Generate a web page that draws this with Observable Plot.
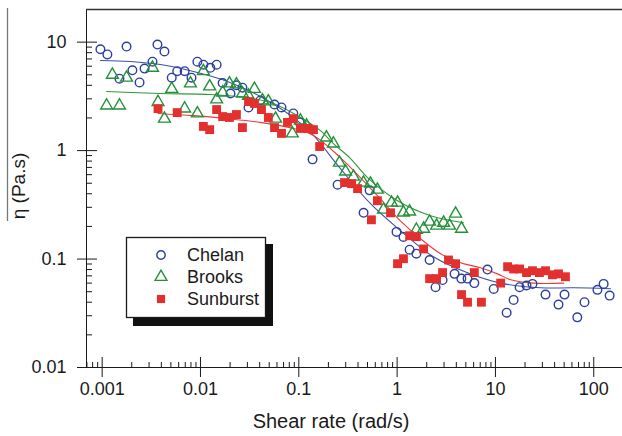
<!DOCTYPE html>
<html>
<head>
<meta charset="utf-8">
<script src="https://cdn.jsdelivr.net/npm/d3@7"></script>
<script src="https://cdn.jsdelivr.net/npm/@observablehq/plot@0.6"></script>
<style>
  html, body { margin: 0; padding: 0; background: #fff; }
  #chart { width: 622px; height: 436px; }
</style>
</head>
<body>
<div id="chart"></div>
<script>
// ---- Data ----
const chelanShear = [0.00096,0.00113,0.00177,0.0015,0.00203,0.0024,0.0027,0.00325,0.00365,0.0043,0.0051,0.0058,0.0069,0.0081,0.0093,0.0107,0.0126,0.0146,0.0168,0.0202,0.0232,0.0267,0.0308,0.0407,0.0566,0.0667,0.088,0.102,0.138,0.248,0.456,0.525,0.986,1.16,1.34,1.57,2.14,2.46,2.9,3.84,4.5,5.2,6.1,8.3,9.6,13.0,15.3,17.6,20.7,23.8,32.3,43.8,50.4,68,80.5,109,126,145];
const chelanEta = [8.6,7.7,9.1,4.6,5.5,4.25,5.7,6.6,9.5,8.2,4.7,5.4,5.4,4.7,6.6,6.2,5.8,6.2,4.2,3.36,4.0,3.8,2.5,2.9,2.66,2.5,2.2,1.82,0.83,0.485,0.267,0.43,0.178,0.16,0.122,0.112,0.098,0.055,0.064,0.073,0.066,0.066,0.060,0.080,0.053,0.032,0.042,0.055,0.057,0.059,0.047,0.038,0.047,0.029,0.040,0.052,0.059,0.046];

const brooksShear = [0.00111,0.0015,0.00127,0.00177,0.00325,0.0037,0.0043,0.0051,0.0069,0.0079,0.0093,0.0107,0.0124,0.0146,0.0168,0.0197,0.0232,0.0267,0.0308,0.0354,0.0427,0.049,0.058,0.086,0.104,0.120,0.191,0.225,0.259,0.299,0.36,0.455,0.536,0.63,0.726,0.877,1.01,1.16,1.34,1.57,1.86,2.14,2.52,2.97,3.41,3.93,4.52];
const brooksEta = [2.6,2.6,5.0,4.7,5.8,2.8,1.97,3.7,2.44,4.16,2.2,5.4,3.9,2.96,3.43,4.16,4.07,3.36,3.2,3.7,2.9,2.84,1.97,1.44,1.89,1.70,1.32,1.16,0.774,0.64,0.575,0.506,0.495,0.436,0.285,0.331,0.331,0.268,0.274,0.186,0.19,0.221,0.203,0.216,0.203,0.262,0.19];

const sunburstShear = [0.0037,0.0058,0.0107,0.0124,0.0146,0.0168,0.0197,0.0232,0.0267,0.0308,0.0354,0.0417,0.049,0.0566,0.0667,0.0767,0.088,0.104,0.123,0.141,0.163,0.292,0.344,0.396,0.63,0.857,0.548,1.01,1.16,1.34,1.57,1.86,2.14,2.52,2.9,3.33,3.93,4.52,5.2,7.2,6.1,11.3,13.3,15.3,17.6,20.7,23.8,28,32.3,38,43.8,51.5];
const sunburstEta = [2.44,2.24,1.67,1.56,2.39,2.06,2.02,2.15,1.63,2.83,2.72,2.39,2.02,1.63,1.44,1.82,1.97,1.6,1.6,1.56,1.09,0.507,0.496,0.446,0.345,0.267,0.23,0.0906,0.1007,0.164,0.161,0.124,0.066,0.066,0.075,0.098,0.0905,0.047,0.040,0.040,0.075,0.060,0.085,0.081,0.081,0.075,0.078,0.075,0.078,0.0716,0.073,0.0687];

// fitted curves
const chelanFitShear = [0.00096,0.00194,0.00392,0.0085,0.0188,0.0407,0.088,0.141,0.265,0.536,1.08,2.34,5.2,11.3,28.8,62.4,148];
const chelanFitEta = [6.78,6.64,6.22,5.36,4.34,3.16,2.02,1.38,0.682,0.324,0.183,0.105,0.0748,0.060,0.0543,0.0543,0.0532];
const brooksFitShear = [0.00111,0.00392,0.0126,0.030,0.0553,0.104,0.166,0.225,0.336,0.50,1.01,2.19,4.74];
const brooksFitEta = [3.51,3.36,3.29,3.08,2.72,2.02,1.53,1.16,0.845,0.564,0.345,0.251,0.216];
const sunburstFitShear = [0.0037,0.0085,0.0188,0.0407,0.088,0.141,0.265,0.63,1.08,1.73,2.77,4.42,7.06,10.5,14.3,24.4,49.3];
const sunburstFitEta = [2.2,2.1,1.97,1.82,1.6,1.38,0.861,0.384,0.225,0.154,0.112,0.0925,0.083,0.073,0.0644,0.060,0.060];

const seriesNames = ["Chelan", "Brooks", "Sunburst"];
const xTicks = [0.001, 0.01, 0.1, 1, 10, 100];
const yTicks = [0.01, 0.1, 1, 10];
const xDomain = [0.000693, 196];
const yDomain = [0.01, 20];

// ---- Styles ----
const FONT = "'Liberation Sans', Arial, Helvetica, sans-serif";
const BLUE = "#2c3f9e", GREEN = "#24903a", RED = "#e3302f";
const BLUE_L = "#3a52a8", GREEN_L = "#2f9a3c", RED_L = "#ec3b3b";
const INK = "#1a1a1a";
const W = 622, H = 436, mL = 86, mT = 9, mR = 0, mB = 69;
const innerW = W - mL - mR, innerH = H - mT - mB;

const zip = (xs, ys) => xs.map((x, i) => ({x, y: ys[i]}));
const chelan = zip(chelanShear, chelanEta);
const brooks = zip(brooksShear, brooksEta);
const sunburst = zip(sunburstShear, sunburstEta);
const chelanFit = zip(chelanFitShear, chelanFitEta);
const brooksFit = zip(brooksFitShear, brooksFitEta);
const sunburstFit = zip(sunburstFitShear, sunburstFitEta);

// minor ticks (2..9 within each decade inside the domain)
const minor = (lo, hi) => {
  const out = [];
  for (let e = Math.floor(Math.log10(lo)); e <= Math.ceil(Math.log10(hi)); e++)
    for (let k = 2; k <= 9; k++) {
      const v = k * Math.pow(10, e);
      if (v > lo && v < hi) out.push(v);
    }
  return out;
};
const xMinor = minor(xDomain[0], xDomain[1]);
const yMinor = minor(yDomain[0], yDomain[1]);

const plot = Plot.plot({
  width: W, height: H,
  marginLeft: mL, marginTop: mT, marginRight: mR, marginBottom: mB,
  style: {fontFamily: FONT, background: "#fff", overflow: "visible"},
  x: {type: "log", domain: xDomain},
  y: {type: "log", domain: yDomain},
  marks: [
    // axis frame lines
    Plot.ruleX([xDomain[0]], {stroke: INK, strokeWidth: 1}),
    Plot.ruleY([yDomain[0]], {stroke: INK, strokeWidth: 1}),
    Plot.ruleY([yDomain[1]], {stroke: "#333", strokeWidth: 1.6}),
    // major ticks (cross the axis)
    Plot.ruleX(xTicks, {x: d => d, stroke: INK, insetTop: innerH - 10, insetBottom: -10}),
    Plot.ruleY(yTicks, {y: d => d, stroke: INK, insetLeft: -9, insetRight: innerW - 11}),
    // minor ticks (inside)
    Plot.ruleX(xMinor, {x: d => d, stroke: INK, insetTop: innerH - 5}),
    Plot.ruleY(yMinor, {y: d => d, stroke: INK, insetRight: innerW - 6}),
    // tick labels
    Plot.axisX(xTicks, {tickSize: 0, tickPadding: 15, fontSize: 18, fill: INK, tickFormat: d => String(d), label: null}),
    Plot.axisY(yTicks, {tickSize: 0, tickPadding: 20, fontSize: 18, fill: INK, tickFormat: d => String(d), label: null}),
    // fitted curves
    Plot.line(chelanFit, {x: "x", y: "y", stroke: BLUE_L, strokeWidth: 1.1, curve: "catmull-rom"}),
    Plot.line(brooksFit, {x: "x", y: "y", stroke: GREEN_L, strokeWidth: 1.1, curve: "catmull-rom"}),
    Plot.line(sunburstFit, {x: "x", y: "y", stroke: RED_L, strokeWidth: 1.1, curve: "catmull-rom"}),
    // data
    Plot.dot(chelan, {x: "x", y: "y", symbol: "circle", r: 4.3, stroke: BLUE, strokeWidth: 1.4, fill: "none"}),
    Plot.dot(brooks, {x: "x", y: "y", symbol: "triangle", r: 4.4, stroke: GREEN, strokeWidth: 1.4, fill: "none"}),
    Plot.dot(sunburst, {x: "x", y: "y", symbol: "square", r: 5.0, fill: RED, stroke: "none"})
  ]
});

document.getElementById("chart").appendChild(plot);

// ---- Decorations: axis titles and legend ----
const svg = d3.select(plot);

svg.append("text")
  .attr("x", 331).attr("y", 428)
  .attr("text-anchor", "middle")
  .attr("font-family", FONT).attr("font-size", 20).attr("fill", INK)
  .text("Shear rate (rad/s)");

svg.append("line")
  .attr("x1", 7.5).attr("x2", 7.5).attr("y1", 8).attr("y2", 221)
  .attr("stroke", "#777").attr("stroke-width", 1.3);

svg.append("text")
  .attr("transform", "translate(25,186) rotate(-90)")
  .attr("text-anchor", "middle")
  .attr("font-family", FONT).attr("font-size", 19).attr("fill", INK)
  .text("η (Pa.s)");

// legend
const lg = svg.append("g");
lg.append("rect").attr("x", 133).attr("y", 244).attr("width", 140).attr("height", 82).attr("fill", "#111");
lg.append("rect").attr("x", 126.5).attr("y", 237.5).attr("width", 139).attr("height", 80)
  .attr("fill", "#fff").attr("stroke", INK).attr("stroke-width", 1.3);
const rows = [
  {name: seriesNames[0], y: 255, sym: d3.symbolCircle, size: Math.PI * 4.2 * 4.2, fill: "none", stroke: BLUE},
  {name: seriesNames[1], y: 277, sym: d3.symbolTriangle, size: Math.PI * 4.4 * 4.4, fill: "none", stroke: GREEN},
  {name: seriesNames[2], y: 299, sym: d3.symbolSquare, size: Math.PI * 4.6 * 4.6, fill: RED, stroke: "none"}
];
rows.forEach(r => {
  lg.append("path")
    .attr("d", d3.symbol(r.sym, r.size)())
    .attr("transform", `translate(161,${r.y})`)
    .attr("fill", r.fill).attr("stroke", r.stroke).attr("stroke-width", 1.4);
  lg.append("text")
    .attr("x", 187).attr("y", r.y).attr("dy", "0.35em")
    .attr("text-anchor", "start")
    .attr("font-family", FONT).attr("font-size", 18).attr("fill", INK)
    .text(r.name);
});
</script>
</body>
</html>
